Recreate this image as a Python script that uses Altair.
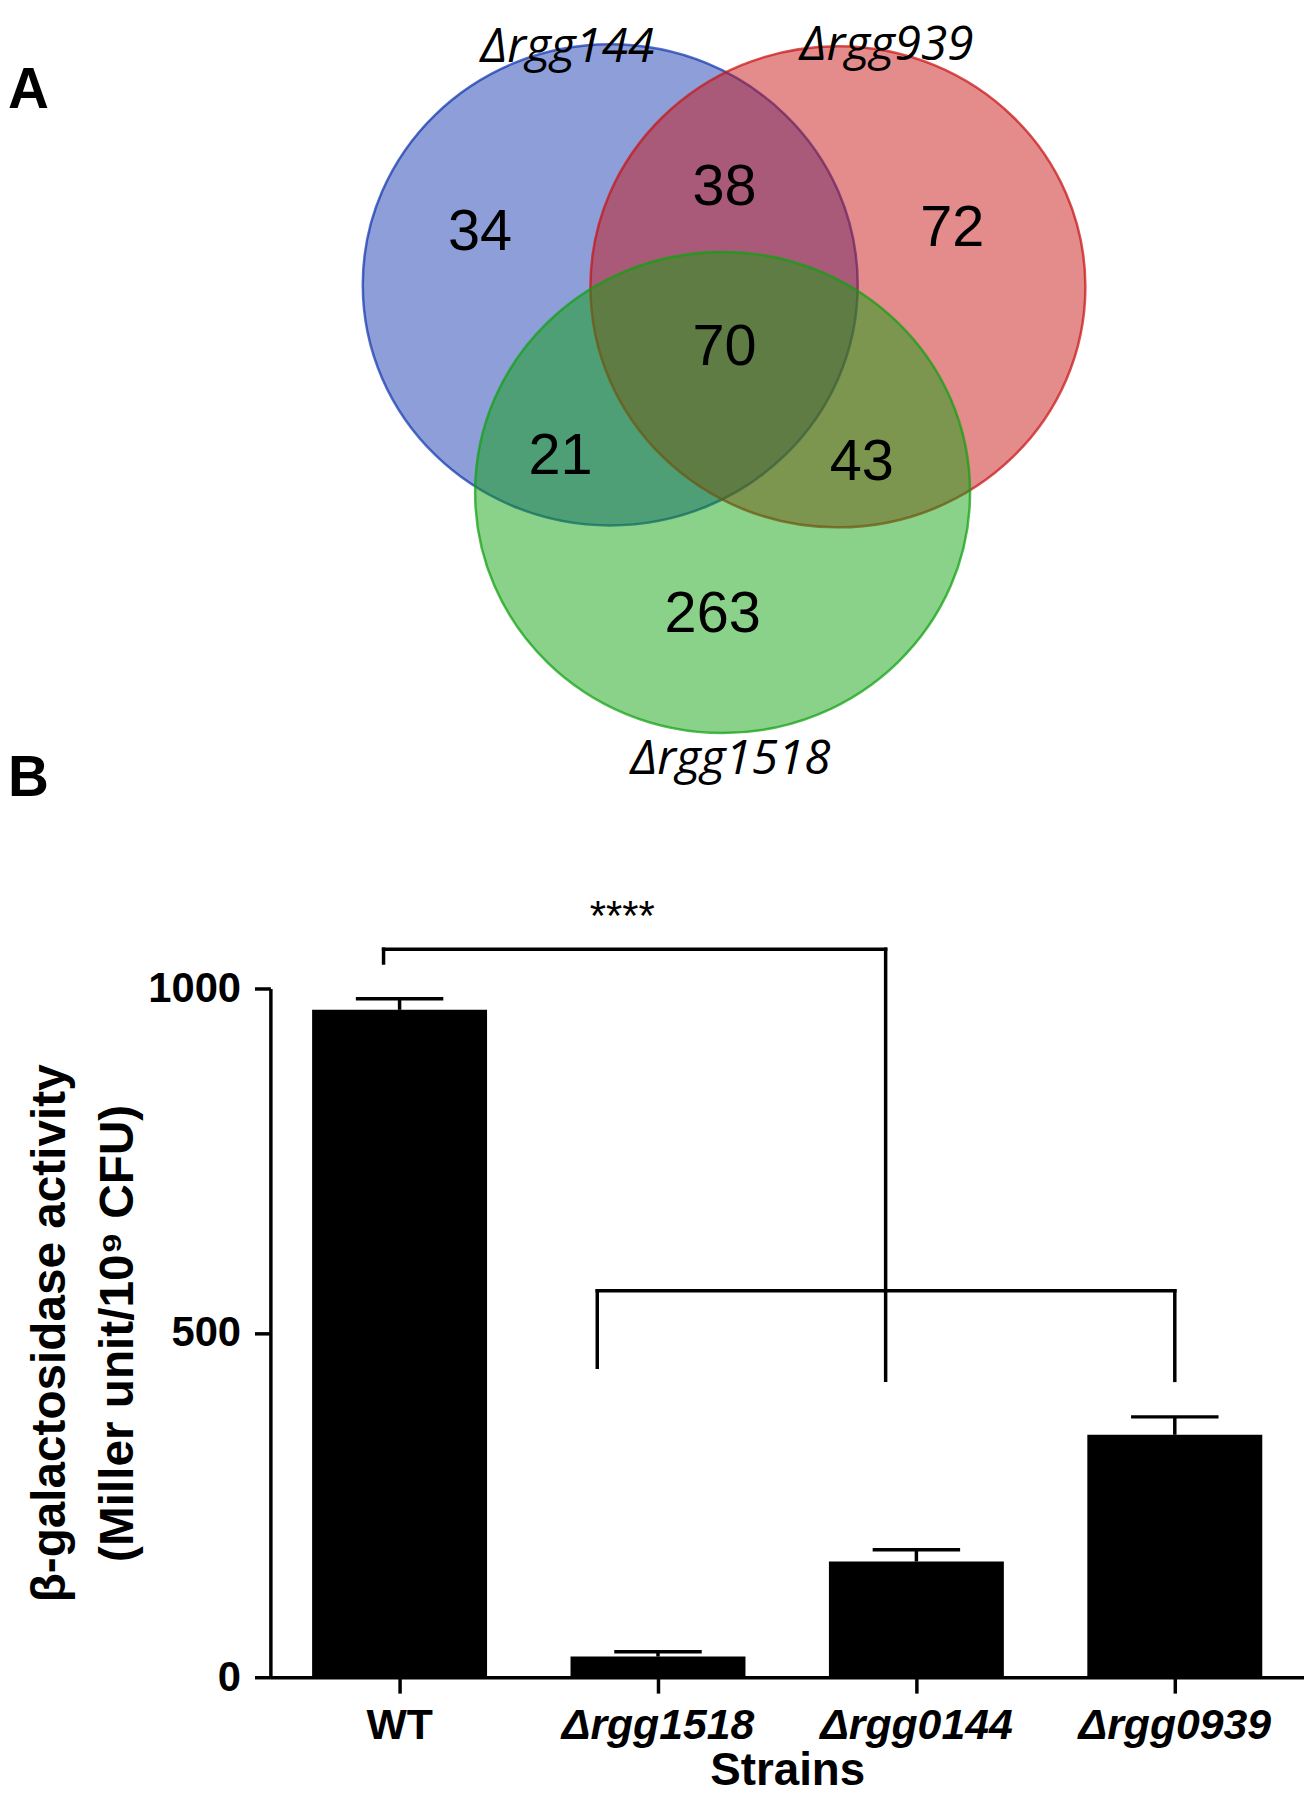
import altair as alt
import pandas as pd

# ---------------- Panel A: Venn diagram ----------------
set_names = ["Δrgg144", "Δrgg939", "Δrgg1518"]
set_colors = ["#1438AF", "#C81313", "#0FA10F"]
set_cx = [-0.458, 0.462, -0.004]
set_cy = [0.285, 0.277, -0.554]
set_label_x = [-0.631, 0.659, 0.028]
set_label_y = [1.185, 1.193, -1.691]

region_counts = [34, 38, 72, 70, 21, 43, 263]
region_x = [-0.984, 0.004, 0.924, 0.004, -0.659, 0.558, -0.044]
region_y = [0.506, 0.687, 0.522, 0.040, -0.398, -0.422, -1.036]

panel_names = ["A", "B"]
panel_x = [-2.892, -2.892]
panel_y = [1.0, -1.779]

# ---------------- Panel B: bar chart ----------------
strains = ["WT", "Δrgg1518", "Δrgg0144", "Δrgg0939"]
activity = [969, 30, 168, 352]
activity_err = [16, 7, 17, 26]

# significance brackets (x in category units, centres at 0.5, 1.5, ...)
bracket_left = [0.438, 1.265]
bracket_right = [2.381, 3.5]
bracket_top = [1057, 561]
bracket_left_end = [1037, 450]
bracket_right_end = [431, 431]
sig_text = ["****"]
sig_x = [1.3615]
sig_y = [1085]

# ---------------- tables ----------------
sets_df = pd.DataFrame({"name": set_names, "color": set_colors, "x": set_cx, "y": set_cy,
                        "lx": set_label_x, "ly": set_label_y})
regions_df = pd.DataFrame({"count": region_counts, "x": region_x, "y": region_y})
panels_df = pd.DataFrame({"name": panel_names, "x": panel_x, "y": panel_y})
bars_df = pd.DataFrame({"strain": strains, "value": activity,
                        "top": [v + e for v, e in zip(activity, activity_err)]})

segs = []
for l, r, t, le, re in zip(bracket_left, bracket_right, bracket_top, bracket_left_end, bracket_right_end):
    segs.append({"x": l, "x2": l, "y": le, "y2": t})
    segs.append({"x": l, "x2": r, "y": t, "y2": t})
    segs.append({"x": r, "x2": r, "y": t, "y2": re})
segs_df = pd.DataFrame(segs)
sig_df = pd.DataFrame({"t": sig_text, "x": sig_x, "y": sig_y})

W, H = 1040, 693
FONT = "Liberation Sans"

# ---------------- Venn layer ----------------
vx = alt.Scale(domain=[-1, 1], range=[207, 705], nice=False, zero=False)
vy = alt.Scale(domain=[-1, 1], range=[-388, -886], nice=False, zero=False)
ellipse = "M -1 0 A 1 0.972 0 1 1 1 0 A 1 0.972 0 1 1 -1 0 Z"

circles = alt.Chart(sets_df).mark_point(
    shape=ellipse, size=248004, filled=True, opacity=1,
    fillOpacity=0.487, strokeOpacity=0.72, strokeWidth=2.5
).encode(
    x=alt.X("x:Q", scale=vx, axis=None),
    y=alt.Y("y:Q", scale=vy, axis=None),
    fill=alt.Fill("color:N", scale=None),
    stroke=alt.Stroke("color:N", scale=None),
)

numbers = alt.Chart(regions_df).mark_text(
    font=FONT, fontSize=58, baseline="middle", dy=3, color="black"
).encode(
    x=alt.X("x:Q", scale=vx, axis=None),
    y=alt.Y("y:Q", scale=vy, axis=None),
    text="count:Q",
)

set_labels = alt.Chart(sets_df).mark_text(
    font="Open Sans", fontStyle="italic", fontSize=48, align="center",
    baseline="alphabetic", color="black"
).encode(
    x=alt.X("lx:Q", scale=vx, axis=None),
    y=alt.Y("ly:Q", scale=vy, axis=None),
    text="name:N",
)

panel_labels = alt.Chart(panels_df).mark_text(
    font=FONT, fontWeight="bold", fontSize=57, align="left",
    baseline="alphabetic", color="black"
).encode(
    x=alt.X("x:Q", scale=vx, axis=None),
    y=alt.Y("y:Q", scale=vy, axis=None),
    text="name:N",
)

venn = alt.layer(circles, numbers, set_labels, panel_labels)

# ---------------- Bar layer ----------------
yscale = alt.Scale(domain=[0, 1000], nice=False, zero=True)
xband = alt.Scale(domain=strains, paddingInner=0.323, paddingOuter=0.1615)

x_axis = alt.Axis(
    title="Strains", titleFont=FONT, titleFontSize=46, titleFontWeight="bold",
    titleColor="black", titleY=108, titleBaseline="alphabetic",
    labelFont=FONT, labelFontSize=43, labelFontWeight="bold", labelColor="black",
    labelFontStyle={"condition": {"test": "datum.value === 'WT'", "value": "normal"}, "value": "italic"},
    labelAngle=0, labelPadding=12, labelLimit=0, tickSize=16, tickWidth=3.5, tickColor="black",
    domainWidth=3.5, domainColor="black", grid=False,
)
y_axis = alt.Axis(
    title=["β-galactosidase activity", "(Miller unit/10⁹ CFU)"],
    titleFont=FONT, titleFontSize=48, titleFontWeight="bold", titleColor="black",
    titleAngle=270, titleX=-207, titleY=346.5, titleAlign="center",
    titleBaseline="alphabetic", titleLineHeight=68,
    values=[0, 500, 1000], format="d", labelFont=FONT, labelFontSize=42, labelFontWeight="bold",
    labelColor="black", labelPadding=14, tickSize=16, tickWidth=3.5, tickColor="black",
    domainWidth=3.5, domainColor="black", grid=False,
)

bars = alt.Chart(bars_df).mark_bar(color="black").encode(
    x=alt.X("strain:N", scale=xband, sort=strains, axis=x_axis),
    y=alt.Y("value:Q", scale=yscale, axis=y_axis),
)
err = alt.Chart(bars_df).mark_rule(color="black", strokeWidth=3.5).encode(
    x=alt.X("strain:N", scale=xband, sort=strains),
    y=alt.Y("value:Q", scale=yscale),
    y2="top:Q",
)
caps = alt.Chart(bars_df).mark_tick(color="black", size=88, thickness=3.5, opacity=1).encode(
    x=alt.X("strain:N", scale=xband, sort=strains),
    y=alt.Y("top:Q", scale=yscale),
)
bar_layer = alt.layer(bars, err, caps)

# ---------------- Bracket layer ----------------
bx = alt.Scale(domain=[0, 4], nice=False, zero=False)
brackets = alt.Chart(segs_df).mark_rule(color="black", strokeWidth=3.5, strokeCap="square").encode(
    x=alt.X("x:Q", scale=bx, axis=None),
    x2="x2:Q",
    y=alt.Y("y:Q", scale=yscale, axis=None),
    y2="y2:Q",
)
stars = alt.Chart(sig_df).mark_text(
    font=FONT, fontSize=42, align="center", baseline="alphabetic", color="black"
).encode(
    x=alt.X("x:Q", scale=bx, axis=None),
    y=alt.Y("y:Q", scale=yscale, axis=None),
    text="t:N",
)
bracket_layer = alt.layer(brackets, stars)

chart = alt.layer(bar_layer, bracket_layer, venn).resolve_scale(
    x="independent", y="independent"
).properties(
    width=W, height=H,
    autosize=alt.AutoSizeParams(type="none"),
    padding={"left": 264, "top": 981, "right": 0, "bottom": 118},
    background="white",
).configure_view(stroke=None)

chart.save("out.html", embed_options={"renderer": "svg", "actions": False})
